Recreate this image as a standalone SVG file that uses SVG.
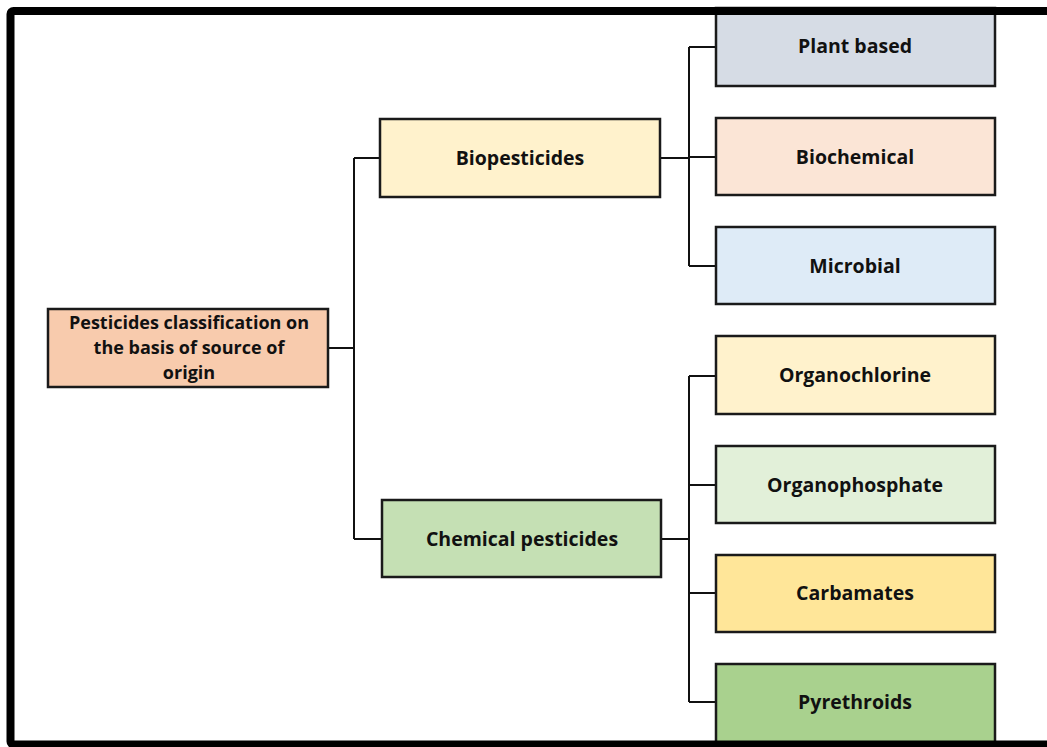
<svg xmlns="http://www.w3.org/2000/svg" width="1047" height="747" viewBox="0 0 1047 747">
<style>
.box{stroke:#1a1a1a;stroke-width:2.5}
.lbl{font-family:"Open Sans","Liberation Sans",sans-serif;font-weight:bold;font-size:19.5px;fill:#111;text-anchor:middle;dominant-baseline:central}
.root{font-size:18px}
.conn{fill:none;stroke:#111;stroke-width:2}
</style>
<rect x="0" y="0" width="1047" height="747" fill="#ffffff"/>
<g id="connectors">
<path class="conn" d="M328,348 H354 M354,158 V539 M354,158 H380 M354,539 H382"/>
<path class="conn" d="M660,158 H689 M689,47 V266 M689,47 H716 M689,157 H716 M689,266 H716"/>
<path class="conn" d="M661,539 H689 M689,376 V702 M689,376 H716 M689,485 H716 M689,593 H716 M689,702 H716"/>
</g>
<g id="root">
<rect class="box" x="48" y="309" width="280" height="78" fill="#F8CBAD"/>
<text class="lbl root" x="189" y="322">Pesticides classification on</text>
<text class="lbl root" x="189" y="347">the basis of source of</text>
<text class="lbl root" x="189" y="372">origin</text>
</g>
<g id="biopesticides">
<rect class="box" x="380" y="119" width="280" height="78" fill="#FFF2CC"/>
<text class="lbl" x="520" y="157">Biopesticides</text>
</g>
<g id="chemical">
<rect class="box" x="382" y="500" width="279" height="77" fill="#C5E0B4"/>
<text class="lbl" x="522" y="538">Chemical pesticides</text>
</g>
<g id="plant">
<rect class="box" x="716" y="8" width="279" height="78" fill="#D6DCE5"/>
<text class="lbl" x="855" y="45">Plant based</text>
</g>
<g id="biochemical">
<rect class="box" x="716" y="118" width="279" height="77" fill="#FBE5D6"/>
<text class="lbl" x="855" y="156">Biochemical</text>
</g>
<g id="microbial">
<rect class="box" x="716" y="227" width="279" height="77" fill="#DEEBF7"/>
<text class="lbl" x="855" y="265">Microbial</text>
</g>
<g id="organochlorine">
<rect class="box" x="716" y="336" width="279" height="78" fill="#FFF2CC"/>
<text class="lbl" x="855" y="374">Organochlorine</text>
</g>
<g id="organophosphate">
<rect class="box" x="716" y="446" width="279" height="77" fill="#E2F0D9"/>
<text class="lbl" x="855" y="484">Organophosphate</text>
</g>
<g id="carbamates">
<rect class="box" x="716" y="555" width="279" height="77" fill="#FFE699"/>
<text class="lbl" x="855" y="592">Carbamates</text>
</g>
<g id="pyrethroids">
<rect class="box" x="716" y="664" width="279" height="80" fill="#A9D18E"/>
<text class="lbl" x="855" y="701">Pyrethroids</text>
</g>
<g id="frame">
<rect x="10.5" y="11" width="1100" height="733.5" rx="3" fill="none" stroke="#000" stroke-width="8"/>
</g>
</svg>
